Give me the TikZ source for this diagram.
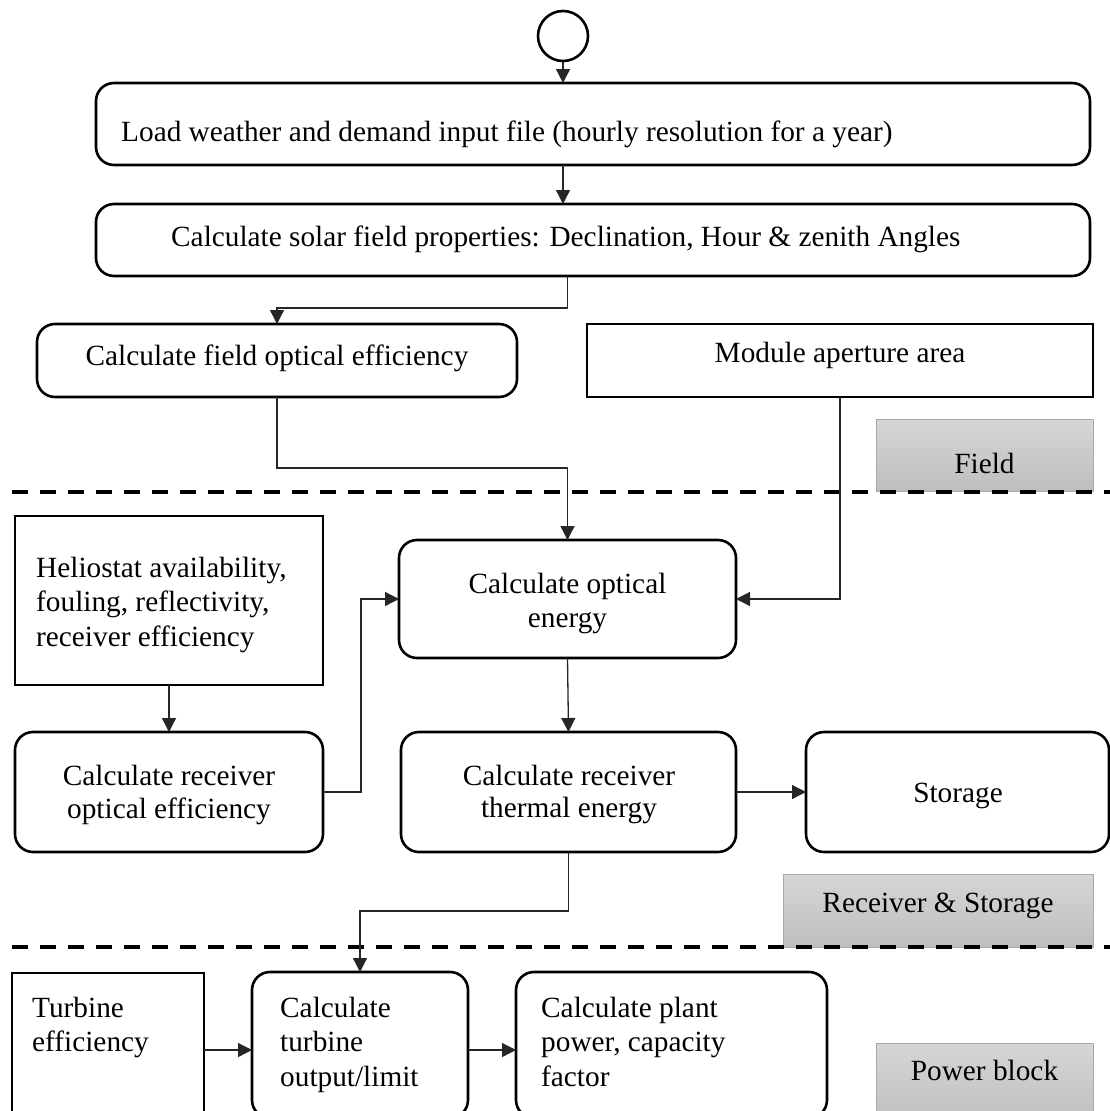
\documentclass[tikz,border=0pt]{standalone}
\usepackage{fontspec}
\setmainfont{Liberation Serif}
\usetikzlibrary{arrows.meta}
\definecolor{bandtop}{HTML}{D6D6D6}
\definecolor{bandbot}{HTML}{BEBEBE}
\definecolor{bandedge}{HTML}{A8A8A8}
% box from corner (x1,y1) to corner (x2,y2): name, style, x1, y1, x2, y2
\newcommand\placebox[6]{%
  \node[#2, minimum width={#5-#3}, minimum height={#6-#4}] (#1) at ({(#3+#5)/2},{(#4+#6)/2}) {};}
\newcommand\txt{\fontsize{29.3}{34.5}\selectfont}
\begin{document}
\begin{tikzpicture}[x=1pt,y=-1pt,
  every node/.style={font=\txt},
  box/.style={draw, line width=2.6pt, inner sep=0pt, outer sep=0pt},
  rbox/.style={box, rounded corners=18pt},
  lbl/.style={inner sep=0pt, anchor=base},
  lblw/.style={inner sep=0pt, anchor=base west},
  conn/.style={line width=1.3pt, draw=black!85, -{Triangle[length=14pt,width=14pt]}},
  band/.style={draw=bandedge, line width=1pt, top color=bandtop, bottom color=bandbot, inner sep=0pt},
  divider/.style={line width=4pt, dash pattern=on 16pt off 12pt}]
\useasboundingbox (0,0) rectangle (1110,1111);
\clip (0,0) rectangle (1110,1111);

% section labels
\placebox{fieldband}{band}{876}{419}{1093}{491}
\placebox{rsband}{band}{783}{874}{1093}{947}
\placebox{pbband}{band}{876}{1043}{1093}{1125}
\node[lbl] (fieldlbl) at (984.5,473) {Field};
\node[lbl] (rslbl) at (938,912) {Receiver \& Storage};
\node[lbl] (pblbl) at (984.5,1080) {Power block};

% section dividers
\draw[divider] (12,492) -- (1110,492);
\draw[divider] (12,947) -- (1110,947);

% start
\node[circle, draw, line width=2.6pt, minimum size=50pt, inner sep=0pt] (start) at (563,36) {};

% boxes
\placebox{b1}{rbox}{96}{83}{1090}{165}
\placebox{b2}{rbox}{96}{204}{1090}{276}
\placebox{b3}{rbox}{37}{324}{517}{397}
\placebox{b4}{box}{587}{324}{1093}{397}
\placebox{b5}{rbox}{399}{540}{736}{658}
\placebox{b6}{box}{15}{516}{323}{685}
\placebox{b7}{rbox}{15}{732}{323}{852}
\placebox{b8}{rbox}{401}{732}{736}{852}
\placebox{b9}{rbox}{806}{732}{1109}{852}
\placebox{b10}{rbox}{252}{972}{468}{1118}
\placebox{b11}{box}{12}{973}{204}{1118}
\placebox{b12}{rbox}{516}{972}{827}{1118}

% texts
\node[lblw] (t1) at (121,141) {Load weather and demand input file (hourly resolution for a year)};
\node[lblw] (t2) at (171,246) {Calculate solar field properties: Declination, Hour \& zenith Angles};
\node[lbl] (t3) at (277,365) {Calculate field optical efficiency};
\node[lbl] (t4) at (840,362) {Module aperture area};
\node[lbl] (t5) at (567.5,593) {\parbox[t]{320pt}{\centering\txt Calculate optical\\energy}};
\node[lblw] (t6) at (36,577) {\parbox[t]{290pt}{\raggedright\txt Heliostat availability,\\fouling, reflectivity,\\receiver efficiency}};
\node[lbl] (t7) at (169,785) {\parbox[t]{300pt}{\centering\fontsize{29.3}{33}\selectfont Calculate receiver\\optical efficiency}};
\node[lbl] (t8) at (569,785) {\parbox[t]{320pt}{\centering\fontsize{29.3}{32}\selectfont Calculate receiver\\thermal energy}};
\node[lbl] (t9) at (958,802) {Storage};
\node[lblw] (t10) at (280,1017) {\parbox[t]{190pt}{\raggedright\txt Calculate\\turbine\\output/limit}};
\node[lblw] (t11) at (32,1017) {\parbox[t]{170pt}{\raggedright\txt Turbine\\efficiency}};
\node[lblw] (t12) at (541,1017) {\parbox[t]{280pt}{\raggedright\txt Calculate plant\\power, capacity\\factor}};

% connectors
\coordinate (pbrow) at (0,1050);
\draw[conn] (start.south) -- (start.south |- b1.north);
\draw[conn] (b1.south -| start.south) -- (b2.north -| start.south);
\draw[conn] (b2.south -| b5.north) -- ++(0,32) -| (b3.north);
\draw[conn] (b3.south) -- ++(0,71) -| (b5.north);
\draw[conn] (b4.south) |- (b5.east);
\draw[conn] (b6.south) -- (b7.north);
\draw[conn] (b7.east) -- ++(38,0) |- (b5.west);
\draw[conn] (b5.south) -- (b8.north);
\draw[conn] (b8.east) -- (b9.west);
\draw[conn] (b8.south) -- ++(0,59) -| (b10.north);
\draw[conn] (b11.east |- pbrow) -- (b10.west |- pbrow);
\draw[conn] (b10.east |- pbrow) -- (b12.west |- pbrow);
\end{tikzpicture}
\end{document}
